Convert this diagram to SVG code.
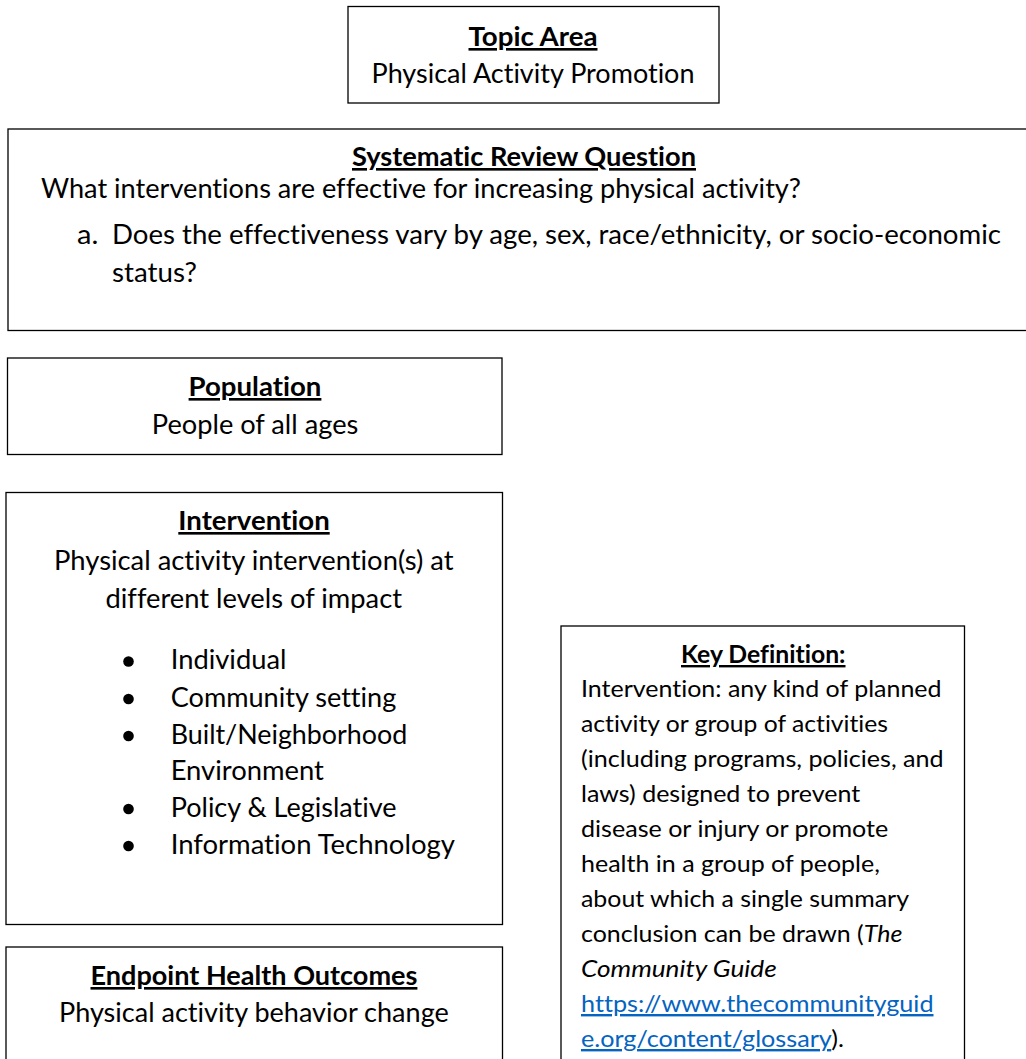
<svg xmlns="http://www.w3.org/2000/svg" width="1026" height="1059" viewBox="0 0 1026 1059">
<style>
  .box { fill: #ffffff; stroke: #000000; stroke-width: 1.3; }
  text { font-family: Lato, Carlito, "Liberation Sans", sans-serif; fill: #000000; font-variant-ligatures: none; }
  .t { font-size: 26.3px; }
  .h { font-size: 26.3px; font-weight: bold; text-decoration: underline; }
  .k { font-size: 24px; }
  .kh { font-size: 24px; font-weight: bold; text-decoration: underline; }
  .it { font-style: italic; }
  .link { fill: #0563C1; text-decoration: underline; }
  .bullet { fill: #000000; }
</style>
<rect width="1026" height="1059" fill="#ffffff"/>

<g id="topic-area">
  <rect class="box" x="348" y="6.5" width="371" height="96.5"/>
  <text class="h" x="468.5" y="46" textLength="129" lengthAdjust="spacingAndGlyphs">Topic Area</text>
  <text class="t" x="371.5" y="83" textLength="323" lengthAdjust="spacingAndGlyphs">Physical Activity Promotion</text>
</g>

<g id="systematic-review-question">
  <rect class="box" x="8" y="129" width="1030" height="201.5"/>
  <text class="h" x="352" y="166" textLength="344" lengthAdjust="spacingAndGlyphs">Systematic Review Question</text>
  <text class="t" x="41" y="198" textLength="760" lengthAdjust="spacingAndGlyphs">What interventions are effective for increasing physical activity?</text>
  <text class="t" x="77" y="244" textLength="21.3" lengthAdjust="spacingAndGlyphs">a.</text>
  <text class="t" x="112" y="244" textLength="889" lengthAdjust="spacingAndGlyphs">Does the effectiveness vary by age, sex, race/ethnicity, or socio-economic</text>
  <text class="t" x="112" y="282" textLength="85" lengthAdjust="spacingAndGlyphs">status?</text>
</g>

<g id="population">
  <rect class="box" x="7.5" y="358" width="494.5" height="96.5"/>
  <text class="h" x="188.6" y="396" textLength="132.8" lengthAdjust="spacingAndGlyphs">Population</text>
  <text class="t" x="151.8" y="434" textLength="206.5" lengthAdjust="spacingAndGlyphs">People of all ages</text>
</g>

<g id="intervention">
  <rect class="box" x="6" y="492.5" width="496.5" height="432"/>
  <text class="h" x="178.3" y="530" textLength="151.4" lengthAdjust="spacingAndGlyphs">Intervention</text>
  <text class="t" x="54" y="570" textLength="399.5" lengthAdjust="spacingAndGlyphs">Physical activity intervention(s) at</text>
  <text class="t" x="105.5" y="608" textLength="296.5" lengthAdjust="spacingAndGlyphs">different levels of impact</text>
  <circle class="bullet" cx="128.5" cy="661.5" r="5.3"/>
  <text class="t" x="170.7" y="669" textLength="115.8" lengthAdjust="spacingAndGlyphs">Individual</text>
  <circle class="bullet" cx="128.5" cy="699" r="5.3"/>
  <text class="t" x="170.7" y="707" textLength="225.6" lengthAdjust="spacingAndGlyphs">Community setting</text>
  <circle class="bullet" cx="128.5" cy="736" r="5.3"/>
  <text class="t" x="170.7" y="744" textLength="236.6" lengthAdjust="spacingAndGlyphs">Built/Neighborhood</text>
  <text class="t" x="170.7" y="780" textLength="153.2" lengthAdjust="spacingAndGlyphs">Environment</text>
  <circle class="bullet" cx="128.5" cy="809" r="5.3"/>
  <text class="t" x="170.7" y="817" textLength="225.9" lengthAdjust="spacingAndGlyphs">Policy &amp; Legislative</text>
  <circle class="bullet" cx="128.5" cy="846" r="5.3"/>
  <text class="t" x="170.7" y="854" textLength="284.2" lengthAdjust="spacingAndGlyphs">Information Technology</text>
</g>

<g id="endpoint-health-outcomes">
  <rect class="box" x="6" y="947" width="496.5" height="130"/>
  <text class="h" x="90.5" y="985" textLength="326.9" lengthAdjust="spacingAndGlyphs">Endpoint Health Outcomes</text>
  <text class="t" x="59" y="1022" textLength="389.8" lengthAdjust="spacingAndGlyphs">Physical activity behavior change</text>
</g>

<g id="key-definition">
  <rect class="box" x="561" y="626" width="403.5" height="450"/>
  <text class="kh" x="681" y="663" textLength="164.5" lengthAdjust="spacingAndGlyphs">Key Definition:</text>
  <text class="k" x="581" y="697" textLength="360.5" lengthAdjust="spacingAndGlyphs">Intervention: any kind of planned</text>
  <text class="k" x="581" y="732" textLength="307" lengthAdjust="spacingAndGlyphs">activity or group of activities</text>
  <text class="k" x="581" y="767" textLength="362.6" lengthAdjust="spacingAndGlyphs">(including programs, policies, and</text>
  <text class="k" x="581" y="802" textLength="279.3" lengthAdjust="spacingAndGlyphs">laws) designed to prevent</text>
  <text class="k" x="581" y="837" textLength="307.2" lengthAdjust="spacingAndGlyphs">disease or injury or promote</text>
  <text class="k" x="581" y="872" textLength="298.9" lengthAdjust="spacingAndGlyphs">health in a group of people,</text>
  <text class="k" x="581" y="907" textLength="328" lengthAdjust="spacingAndGlyphs">about which a single summary</text>
  <text class="k" x="581" y="942" textLength="321.4" lengthAdjust="spacingAndGlyphs">conclusion can be drawn (<tspan class="it">The</tspan></text>
  <text class="k it" x="581" y="977" textLength="195.7" lengthAdjust="spacingAndGlyphs">Community Guide</text>
  <text class="k link" x="581" y="1012" textLength="352.5" lengthAdjust="spacingAndGlyphs">https://www.thecommunityguid</text>
  <text class="k" x="581" y="1047" textLength="262.9" lengthAdjust="spacingAndGlyphs"><tspan class="link">e.org/content/glossary</tspan>).</text>
</g>
</svg>
